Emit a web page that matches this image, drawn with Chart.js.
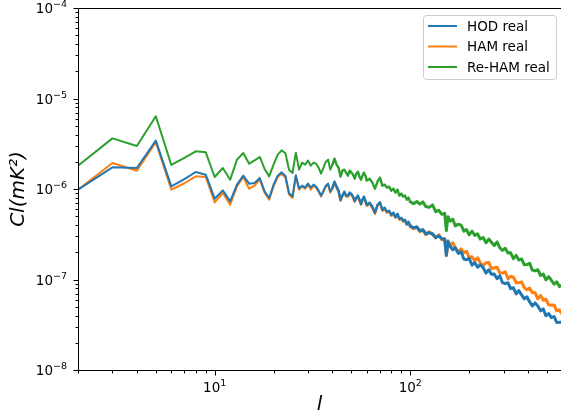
<!DOCTYPE html>
<html>
<head>
<meta charset="utf-8">
<script src="https://cdn.jsdelivr.net/npm/chart.js@4.4.1/dist/chart.umd.min.js"></script>
<style>
  html, body { margin: 0; padding: 0; background: #fff; }
  canvas { display: block; }
</style>
</head>
<body>
<canvas id="chart" width="561" height="418"></canvas>
<script>
// multipole l
const ells = [2, 3, 4, 5, 6, 7, 8, 9, 10, 11, 12, 13, 14, 15, 16, 17, 18, 19, 20, 21, 22, 23, 24, 25, 26, 27,
    28, 29, 30, 31, 32, 33, 34, 35, 36, 37, 38, 39, 40, 41, 42, 43, 44, 45, 46, 47, 48, 49, 50, 51, 52, 53, 54, 55, 56, 57, 58, 59, 60,
    62, 64, 66, 68, 70, 72, 74, 76, 78, 80, 82, 84, 86, 88, 90, 92, 94, 96, 98, 100,
    104, 108, 112, 116, 120, 125, 130, 135, 140, 145, 150, 153, 156, 160, 165, 170, 176, 182, 188, 194, 200, 207, 214, 221, 228,
    236, 244, 252, 260, 269, 278, 287, 296, 306, 316, 326, 337, 348, 359, 371, 383, 395, 408, 421, 435, 449, 464, 479, 494, 510,
    527, 544, 561, 579, 590];

const hodReal = [0.982e-6, 1.734e-6, 1.707e-6, 3.421e-6, 1.069e-6, 1.284e-6, 1.542e-6, 1.439e-6, 0.781e-6, 0.965e-6, 0.729e-6, 1.116e-6, 1.403e-6,
    1.144e-6, 1.165e-6, 1.323e-6, 0.941e-6, 0.795e-6, 1.116e-6, 1.403e-6, 1.526e-6, 1.39e-6, 0.903e-6, 0.828e-6, 1.42e-6, 1.015e-6,
    1.089e-6, 1.035e-6, 1.146e-6, 1.035e-6, 1.117e-6, 1.062e-6, 0.959e-6, 0.845e-6, 0.959e-6, 1.089e-6, 1.146e-6, 0.935e-6, 1.035e-6,
    1.206e-6, 1.062e-6, 0.959e-6, 0.761e-6, 0.845e-6, 0.935e-6, 0.845e-6, 0.845e-6, 0.912e-6, 0.880e-6, 0.824e-6, 0.742e-6, 0.803e-6,
    0.845e-6, 0.761e-6, 0.687e-6, 0.770e-6, 0.824e-6, 0.742e-6, 0.670e-6,
    0.705e-6, 0.637e-6, 0.547e-6, 0.670e-6, 0.712e-6, 0.590e-6, 0.621e-6, 0.561e-6, 0.575e-6, 0.519e-6, 0.547e-6, 0.488e-6, 0.533e-6,
    0.469e-6, 0.481e-6, 0.446e-6, 0.457e-6, 0.407e-6, 0.435e-6, 0.393e-6,
    0.373e-6, 0.380e-6, 0.3457e-6, 0.3546e-6, 0.3203e-6, 0.3286e-6, 0.3203e-6, 0.2893e-6, 0.3044e-6, 0.2821e-6, 0.2800e-6, 0.1860e-6,
    0.2626e-6, 0.2316e-6, 0.2135e-6, 0.2241e-6, 0.1944e-6, 0.2030e-6, 0.1681e-6, 0.1651e-6, 0.1712e-6, 0.1443e-6, 0.1534e-6, 0.1364e-6,
    0.1450e-6, 0.1355e-6, 0.1175e-6, 0.1280e-6, 0.1142e-6, 0.1151e-6, 0.1021e-6, 0.1102e-6, 0.0925e-6, 0.0899e-6, 0.0922e-6, 0.0792e-6,
    0.0810e-6, 0.0695e-6, 0.0752e-6, 0.0677e-6, 0.0612e-6, 0.0644e-6, 0.0565e-6, 0.0511e-6, 0.0551e-6, 0.0510e-6, 0.0450e-6, 0.0473e-6,
    0.0398e-6, 0.0420e-6, 0.0379e-6, 0.0389e-6, 0.0335e-6, 0.0336e-6, 0.0337e-6];

const hamReal = [0.982e-6, 1.939e-6, 1.594e-6, 3.293e-6, 0.982e-6, 1.157e-6, 1.379e-6, 1.357e-6, 0.711e-6, 0.903e-6, 0.670e-6, 1.069e-6, 1.357e-6,
    1.008e-6, 1.088e-6, 1.267e-6, 0.903e-6, 0.761e-6, 1.069e-6, 1.357e-6, 1.476e-6, 1.34e-6, 0.865e-6, 0.795e-6, 1.37e-6, 0.982e-6,
    1.062e-6, 1.009e-6, 1.117e-6, 0.984e-6, 1.089e-6, 1.035e-6, 0.935e-6, 0.824e-6, 0.935e-6, 1.062e-6, 1.117e-6, 0.912e-6, 1.009e-6,
    1.176e-6, 1.035e-6, 0.935e-6, 0.742e-6, 0.845e-6, 0.912e-6, 0.824e-6, 0.824e-6, 0.889e-6, 0.867e-6, 0.803e-6, 0.723e-6, 0.783e-6,
    0.824e-6, 0.742e-6, 0.670e-6, 0.761e-6, 0.803e-6, 0.723e-6, 0.653e-6,
    0.687e-6, 0.621e-6, 0.533e-6, 0.653e-6, 0.705e-6, 0.575e-6, 0.605e-6, 0.547e-6, 0.561e-6, 0.506e-6, 0.533e-6, 0.481e-6, 0.519e-6,
    0.457e-6, 0.469e-6, 0.435e-6, 0.446e-6, 0.403e-6, 0.424e-6, 0.383e-6,
    0.364e-6, 0.383e-6, 0.3370e-6, 0.3546e-6, 0.3122e-6, 0.3370e-6, 0.3122e-6, 0.2893e-6, 0.3122e-6, 0.2749e-6, 0.2821e-6, 0.1828e-6,
    0.2680e-6, 0.2358e-6, 0.2548e-6, 0.2241e-6, 0.2025e-6, 0.2185e-6, 0.1974e-6, 0.2051e-6, 0.1738e-6, 0.1782e-6, 0.1610e-6, 0.1738e-6,
    0.1530e-6, 0.1418e-6, 0.1530e-6, 0.1545e-6, 0.1314e-6, 0.1347e-6, 0.1365e-6, 0.1187e-6, 0.1178e-6, 0.1217e-6, 0.1018e-6, 0.1085e-6,
    0.1061e-6, 0.0920e-6, 0.0922e-6, 0.0943e-6, 0.0810e-6, 0.0769e-6, 0.0805e-6, 0.0713e-6, 0.0715e-6, 0.0612e-6, 0.0666e-6, 0.0589e-6,
    0.0607e-6, 0.0525e-6, 0.0520e-6, 0.0524e-6, 0.0451e-6, 0.0462e-6, 0.0428e-6];

const reHamReal = [1.811e-6, 3.628e-6, 2.990e-6, 6.356e-6, 1.843e-6, 2.203e-6, 2.606e-6, 2.541e-6, 1.357e-6, 1.707e-6, 1.267e-6, 2.109e-6, 2.502e-6,
    1.905e-6, 2.072e-6, 2.259e-6, 1.664e-6, 1.379e-6, 1.857e-6, 2.395e-6, 2.673e-6, 2.48e-6, 1.635e-6, 1.503e-6, 2.52e-6, 1.635e-6,
    1.954e-6, 1.857e-6, 2.056e-6, 1.811e-6, 1.954e-6, 1.905e-6, 1.721e-6, 1.478e-6, 1.721e-6, 2.005e-6, 2.109e-6, 1.636e-6, 1.857e-6,
    2.164e-6, 1.857e-6, 1.721e-6, 1.369e-6, 1.595e-6, 1.636e-6, 1.516e-6, 1.404e-6, 1.595e-6, 1.516e-6, 1.441e-6, 1.301e-6, 1.478e-6,
    1.555e-6, 1.369e-6, 1.269e-6, 1.404e-6, 1.516e-6, 1.404e-6, 1.237e-6,
    1.301e-6, 1.176e-6, 1.009e-6, 1.206e-6, 1.335e-6, 1.089e-6, 1.117e-6, 1.035e-6, 1.062e-6, 0.959e-6, 1.009e-6, 0.912e-6, 0.984e-6,
    0.845e-6, 0.889e-6, 0.824e-6, 0.845e-6, 0.761e-6, 0.803e-6, 0.723e-6,
    0.689e-6, 0.728e-6, 0.680e-6, 0.721e-6, 0.640e-6, 0.627e-6, 0.667e-6, 0.562e-6, 0.581e-6, 0.525e-6, 0.539e-6, 0.3475e-6,
    0.495e-6, 0.441e-6, 0.464e-6, 0.391e-6, 0.409e-6, 0.399e-6, 0.3422e-6, 0.3564e-6, 0.3118e-6, 0.3422e-6, 0.3060e-6, 0.3195e-6,
    0.2799e-6, 0.2915e-6, 0.2548e-6, 0.2799e-6, 0.2580e-6, 0.2370e-6, 0.2600e-6, 0.2241e-6, 0.2098e-6, 0.2213e-6, 0.1959e-6, 0.1974e-6,
    0.1703e-6, 0.1847e-6, 0.1638e-6, 0.1686e-6, 0.1454e-6, 0.1465e-6, 0.1507e-6, 0.1270e-6, 0.1245e-6, 0.1283e-6, 0.1107e-6, 0.1145e-6,
    0.0990e-6, 0.1077e-6, 0.0977e-6, 0.0888e-6, 0.0943e-6, 0.0835e-6, 0.0859e-6];

const seriesLabels = ["HOD real", "HAM real", "Re-HAM real"];
const seriesColors = ["#1f77b4", "#ff7f0e", "#2ca02c"];

// major ticks: value and the exponent shown as 10^exp
const xTickValues = [10, 100];
const xTickExps = ["1", "2"];
const yTickValues = [1e-8, 1e-7, 1e-6, 1e-5, 1e-4];
const yTickExps = ["\u22128", "\u22127", "\u22126", "\u22125", "\u22124"];

const FONT = "'DejaVu Sans', sans-serif";

function points(ys) {
    return ells.map((l, i) => ({ x: l, y: ys[i] }));
}

// "10" with a raised exponent, like matplotlib mathtext
function drawPow(ctx, exp, x, baseline, align) {
    ctx.font = "13.5px " + FONT;
    const bw = ctx.measureText("10").width;
    ctx.font = "9.5px " + FONT;
    const ew = ctx.measureText(exp).width;
    const x0 = align === "right" ? x - bw - ew : x - (bw + ew) / 2;
    ctx.textAlign = "left";
    ctx.textBaseline = "alphabetic";
    ctx.font = "13.5px " + FONT;
    ctx.fillText("10", x0, baseline);
    ctx.font = "9.5px " + FONT;
    ctx.fillText(exp, x0 + bw, baseline - 6);
}

// tick marks, tick labels, spines, axis titles and legend in matplotlib style
const mplDecor = {
    id: "mplDecor",
    afterDraw(chart) {
        const ctx = chart.ctx;
        const a = chart.chartArea;
        const xs = chart.scales.x;
        const ys = chart.scales.y;
        const L = Math.round(a.left) + 0.5, T = Math.round(a.top) + 0.5, B = Math.round(a.bottom) + 0.5;

        ctx.save();
        ctx.strokeStyle = "#000";
        ctx.lineWidth = 1;

        ctx.beginPath();
        ctx.moveTo(a.right + 2, T);
        ctx.lineTo(L, T);
        ctx.lineTo(L, B);
        ctx.lineTo(a.right + 2, B);
        ctx.stroke();

        function isTick(v) {
            const m = v / Math.pow(10, Math.floor(Math.log10(v) + 1e-9));
            return Math.abs(m - Math.round(m)) < 1e-6 ? Math.round(m) : 0;
        }

        ctx.beginPath();
        xs.ticks.forEach(t => {
            const m = isTick(t.value);
            if (!m) return;
            const px = Math.round(xs.getPixelForValue(t.value)) + 0.5;
            ctx.moveTo(px, B);
            ctx.lineTo(px, B + (m === 1 ? 5 : 3));
        });
        ys.ticks.forEach(t => {
            const m = isTick(t.value);
            if (!m) return;
            const py = Math.round(ys.getPixelForValue(t.value)) + 0.5;
            ctx.moveTo(L, py);
            ctx.lineTo(L - (m === 1 ? 5 : 3), py);
        });
        ctx.stroke();

        ctx.fillStyle = "#000";
        xTickValues.forEach((v, i) => drawPow(ctx, xTickExps[i], xs.getPixelForValue(v), 392, "center"));
        yTickValues.forEach((v, i) => drawPow(ctx, yTickExps[i], 67, ys.getPixelForValue(v) + 5, "right"));

        // axis titles
        ctx.textAlign = "center";
        ctx.textBaseline = "middle";
        ctx.font = "italic 20px " + FONT;
        ctx.fillText("l", (a.left + a.right) / 2, 405);
        ctx.save();
        ctx.translate(19, (a.top + a.bottom) / 2);
        ctx.rotate(-Math.PI / 2);
        ctx.fillText("Cl(mK\u00b2)", 0, 0);
        ctx.restore();

        // legend
        const bx = 423.5, by = 15.5, bw = 133, bh = 64;
        ctx.beginPath();
        ctx.roundRect(bx, by, bw, bh, 3);
        ctx.fillStyle = "rgba(255,255,255,0.8)";
        ctx.fill();
        ctx.strokeStyle = "#cccccc";
        ctx.stroke();

        const rows = [26, 46.5, 67];
        ctx.font = "13.5px " + FONT;
        ctx.textAlign = "left";
        seriesLabels.forEach((lab, i) => {
            ctx.strokeStyle = seriesColors[i];
            ctx.lineWidth = 2;
            ctx.beginPath();
            ctx.moveTo(428, rows[i]);
            ctx.lineTo(457, rows[i]);
            ctx.stroke();
            ctx.fillStyle = "#000";
            ctx.fillText(lab, 467, rows[i] + 1);
        });
        ctx.restore();
    }
};

// the noisy high-l part of each spectrum reads as a thicker band
function segWidth(c) {
    const l = c.p0.parsed.x;
    return l >= 100 ? 3 : (l >= 40 ? 2.4 : 2);
}

new Chart(document.getElementById("chart"), {
    type: "line",
    data: {
        datasets: [
            { label: seriesLabels[0], data: points(hodReal), borderColor: seriesColors[0] },
            { label: seriesLabels[1], data: points(hamReal), borderColor: seriesColors[1] },
            { label: seriesLabels[2], data: points(reHamReal), borderColor: seriesColors[2] }
        ].map(d => Object.assign(d, {
            borderWidth: 2, pointRadius: 0, tension: 0, fill: false,
            borderJoinStyle: "round", borderCapStyle: "round",
            segment: { borderWidth: segWidth }
        }))
    },
    options: {
        responsive: false,
        animation: false,
        events: [],
        layout: { padding: { top: 8, right: 0, bottom: 0, left: 0 } },
        plugins: { legend: { display: false }, tooltip: { enabled: false } },
        scales: {
            x: {
                type: "logarithmic",
                min: 2,
                max: 590,
                grid: { display: false },
                border: { display: false },
                ticks: { display: false },
                afterFit: s => { s.height = 48; s.paddingLeft = 0; s.paddingRight = 0; }
            },
            y: {
                type: "logarithmic",
                min: 1e-8,
                max: 1e-4,
                grid: { display: false },
                border: { display: false },
                ticks: { display: false },
                afterFit: s => { s.width = 78; s.paddingTop = 0; s.paddingBottom = 0; }
            }
        }
    },
    plugins: [mplDecor]
});
</script>
</body>
</html>
